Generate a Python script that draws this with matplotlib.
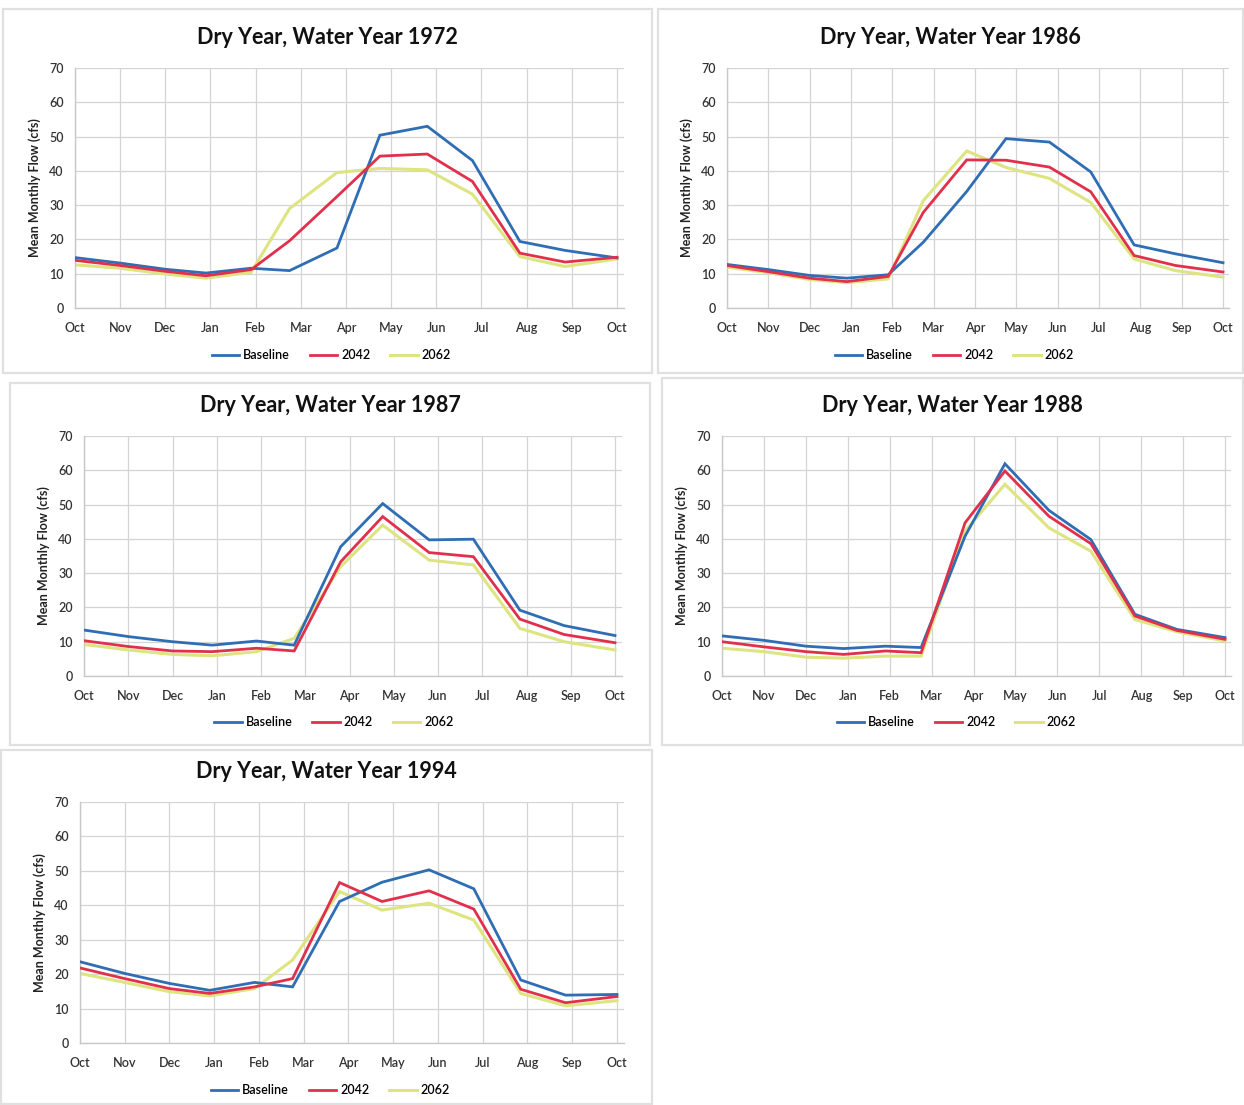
import matplotlib
matplotlib.use("Agg")
import matplotlib.pyplot as plt
from matplotlib.patches import Rectangle

plt.rcParams['font.family'] = ['Lato', 'DejaVu Sans']

months = ["Oct", "Nov", "Dec", "Jan", "Feb", "Mar", "Apr", "May", "Jun",
          "Jul", "Aug", "Sep", "Oct"]
series_names = ["Baseline", "2042", "2062"]
series_colors = ["#2F6DB5", "#E0304C", "#DDE480"]

# sample positions (in months since 1 Oct) of the monthly means
sample_months = [0, 1, 2, 2.9, 3.9, 4.75, 5.8, 6.75, 7.8, 8.8, 9.85, 10.85, 12]

years = ["1972", "1986", "1987", "1988", "1994"]

baseline_1972 = [14.7, 13.1, 11.3, 10.2, 11.6, 10.9, 17.5, 50.4, 53.0, 43.0, 19.4, 16.8, 14.6]
f2042_1972 = [13.9, 12.4, 10.7, 9.4, 11.2, 19.6, 32.5, 44.3, 44.9, 36.9, 16.0, 13.4, 14.8]
f2062_1972 = [12.6, 11.6, 9.9, 8.7, 10.4, 29.0, 39.5, 40.7, 40.3, 33.2, 15.0, 12.1, 14.3]

baseline_1986 = [12.7, 11.2, 9.5, 8.7, 9.7, 19.2, 34.0, 49.4, 48.4, 39.7, 18.4, 15.8, 13.2]
f2042_1986 = [12.4, 10.6, 8.7, 7.7, 9.2, 27.9, 43.2, 43.1, 41.1, 33.9, 15.3, 12.4, 10.5]
f2062_1986 = [11.9, 10.3, 8.3, 7.4, 8.5, 31.3, 45.8, 41.0, 37.8, 30.8, 14.3, 10.9, 9.0]

baseline_1987 = [13.4, 11.5, 10.0, 9.0, 10.2, 9.0, 37.7, 50.3, 39.7, 39.9, 19.2, 14.7, 11.8]
f2042_1987 = [10.3, 8.6, 7.3, 7.1, 8.1, 7.3, 33.3, 46.5, 36.0, 34.8, 16.6, 12.1, 9.7]
f2062_1987 = [9.2, 7.6, 6.3, 5.9, 7.1, 11.0, 31.9, 44.0, 33.8, 32.4, 13.9, 10.0, 7.6]

baseline_1988 = [11.7, 10.4, 8.7, 8.0, 8.7, 8.3, 40.8, 61.9, 48.3, 39.8, 18.0, 13.6, 11.2]
f2042_1988 = [10.0, 8.5, 7.1, 6.3, 7.3, 6.8, 44.7, 59.8, 46.6, 38.6, 17.5, 13.3, 10.7]
f2062_1988 = [8.1, 7.1, 5.5, 5.2, 5.8, 5.8, 42.3, 55.9, 43.2, 36.4, 16.5, 12.9, 10.2]

baseline_1994 = [23.6, 20.2, 17.3, 15.3, 17.6, 16.3, 41.1, 46.7, 50.3, 44.8, 18.3, 13.9, 14.1]
f2042_1994 = [21.8, 18.7, 15.8, 14.4, 16.3, 18.7, 46.6, 41.1, 44.2, 38.9, 15.6, 11.7, 13.5]
f2062_1994 = [20.2, 17.6, 14.9, 13.7, 15.8, 24.1, 44.0, 38.6, 40.6, 35.7, 14.4, 10.8, 12.3]

panel_data = {
    "1972": [baseline_1972, f2042_1972, f2062_1972],
    "1986": [baseline_1986, f2042_1986, f2062_1986],
    "1987": [baseline_1987, f2042_1987, f2062_1987],
    "1988": [baseline_1988, f2042_1988, f2062_1988],
    "1994": [baseline_1994, f2042_1994, f2062_1994],
}

W, H = 1244, 1105
fig = plt.figure(figsize=(W / 100, H / 100), dpi=100)
fig.patch.set_facecolor("white")

XMAX = 12.15


def fx(px):
    return px / W


def fy(py):
    return 1 - py / H


# layout in pixels: frame box, axes (x of first Oct, x of last Oct, top, bottom), title y, legend y
layout = {
    "1972": dict(frame=(3, 9, 652, 373), ax=(75, 617, 68, 308), title=37, leg=355),
    "1986": dict(frame=(658, 9, 1243, 373), ax=(727, 1223, 68, 308), title=37, leg=355),
    "1987": dict(frame=(10, 383, 650, 745), ax=(84, 615, 436, 676), title=405, leg=722),
    "1988": dict(frame=(662, 378, 1243, 745), ax=(722, 1225, 436, 676), title=405, leg=722),
    "1994": dict(frame=(1, 750, 652, 1104), ax=(80, 617, 802, 1043), title=772, leg=1090),
}

for yr in years:
    L = layout[yr]
    x0, y0, x1, y1 = L["frame"]
    fig.patches.append(Rectangle((fx(x0), fy(y1)), fx(x1 - x0), (y1 - y0) / H,
                                 transform=fig.transFigure, fill=False,
                                 edgecolor="#E0E0E0", linewidth=1.6, zorder=0))
    ox0, ox12, top, bot = L["ax"]
    unit = (ox12 - ox0) / 12.0
    width_px = unit * XMAX
    ax = fig.add_axes([fx(ox0), fy(bot), fx(width_px), (bot - top) / H])
    for name, vals, col in zip(series_names, panel_data[yr], series_colors):
        lw = 2.0 if name != "2062" else 2.2
        ax.plot(sample_months, vals, color=col, linewidth=lw, label=name,
                solid_joinstyle="miter", zorder=3 if name != "2062" else 2)
    ax.set_xlim(0, XMAX)
    ax.set_ylim(0, 70)
    ax.set_xticks(range(13))
    ax.set_xticklabels(months)
    ax.set_yticks(range(0, 71, 10))
    ax.grid(True, color="#D4D4D4", linewidth=0.9)
    ax.set_axisbelow(True)
    for s in ["top", "right"]:
        ax.spines[s].set_visible(False)
    for s in ["left", "bottom"]:
        ax.spines[s].set_color("#C8C8C8")
        ax.spines[s].set_linewidth(1.0)
    ax.tick_params(axis="x", length=0, labelsize=9, colors="#333333", pad=10)
    ax.tick_params(axis="y", length=0, labelsize=9, colors="#333333", pad=8)
    for lab in ax.get_xticklabels() + ax.get_yticklabels():
        lab.set_fontweight("semibold")
    ax.set_ylabel("Mean Monthly Flow (cfs)", fontsize=9, fontweight="bold",
                  color="#222222", labelpad=6)
    cx = (x0 + x1) / 2
    fig.text(fx(cx), fy(L["title"]), "Dry Year, Water Year " + yr, ha="center",
             va="center", fontsize=15.5, fontweight="bold", color="#111111")
    fig.legend(*ax.get_legend_handles_labels(), loc="center",
               bbox_to_anchor=(fx(cx + 4), fy(L["leg"])), ncol=3, frameon=False,
               handlelength=2.2, handletextpad=0.3,
               columnspacing=1.6, prop=dict(weight="semibold", size=9))

fig.savefig("out.png", dpi=100, facecolor="white")
